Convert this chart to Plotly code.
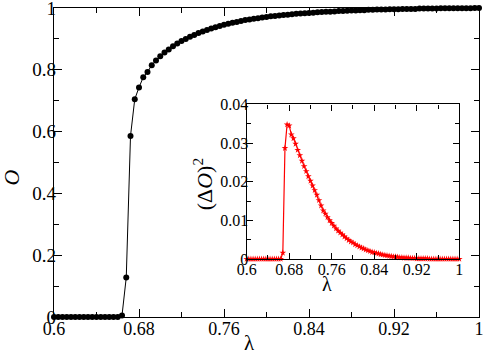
import plotly.graph_objects as go

# lambda grid: 0.6 .. 1.0 step 0.004
lam = [round(0.6 + 0.004 * i, 3) for i in range(101)]

order_param = (
    [0.0] * 16 + [0.005, 0.128, 0.586, 0.705, 0.743, 0.776, 0.793, 0.815, 0.830, 0.844,
                  0.856, 0.866, 0.876, 0.885, 0.893, 0.900, 0.907, 0.913, 0.919, 0.924,
                  0.929, 0.934, 0.938, 0.942, 0.946, 0.949, 0.952, 0.955, 0.958, 0.961,
                  0.963, 0.965, 0.967, 0.969, 0.971,
                  0.973, 0.974, 0.976, 0.977, 0.978, 0.980, 0.981, 0.982, 0.983, 0.984,
                  0.985, 0.986, 0.987, 0.988, 0.988, 0.989, 0.990, 0.990, 0.991, 0.992,
                  0.992, 0.993, 0.993, 0.994, 0.994, 0.995, 0.995, 0.995, 0.996, 0.996,
                  0.996, 0.997, 0.997, 0.997, 0.997, 0.998, 0.998, 0.998, 0.998, 0.998,
                  0.999, 0.999, 0.999, 0.999, 0.999, 0.999, 0.999, 0.999, 1.0, 1.0]
)

fluct = (
    [0.0] * 16 + [0.0, 0.0016, 0.0287, 0.0348, 0.0345, 0.0322, 0.0312, 0.0298, 0.0282, 0.0268,
                  0.0254, 0.0240, 0.0227, 0.0214, 0.0202, 0.0190, 0.0178, 0.0166, 0.0152, 0.0138,
                  0.0125, 0.0117, 0.0108, 0.0100, 0.0093, 0.0086, 0.0079, 0.0073, 0.0068, 0.0063,
                  0.0058, 0.0053, 0.0049, 0.0045, 0.0042,
                  0.0038, 0.0035, 0.0032, 0.0029, 0.0027, 0.0024, 0.0022, 0.0020, 0.0018, 0.0017,
                  0.0015, 0.0014, 0.0012, 0.0011, 0.0010, 0.0009, 0.0008, 0.0007, 0.0006, 0.0006,
                  0.0005, 0.0004, 0.0004, 0.0003, 0.0003, 0.0003, 0.0002, 0.0002, 0.0002, 0.0001,
                  0.0001, 0.0001, 0.0001, 0.0001, 0.0001] + [0.0] * 15
)

main_xticks = [0.6, 0.68, 0.76, 0.84, 0.92, 1.0]
main_yticks = [0, 0.2, 0.4, 0.6, 0.8, 1.0]
inset_yticks = [0, 0.01, 0.02, 0.03, 0.04]

FONT = "Liberation Serif"

fig = go.Figure()
fig.add_trace(go.Scatter(
    x=lam, y=order_param, mode="lines+markers",
    line=dict(color="black", width=1),
    marker=dict(color="black", size=6, symbol="circle"),
    cliponaxis=False, xaxis="x", yaxis="y", showlegend=False, hoverinfo="skip",
))
fig.add_trace(go.Scatter(
    x=lam, y=fluct, mode="lines+markers",
    line=dict(color="red", width=1.2),
    marker=dict(color="red", size=5, symbol="star"),
    cliponaxis=False, xaxis="x2", yaxis="y2", showlegend=False, hoverinfo="skip",
))

axis_common = dict(
    showgrid=False, zeroline=False, showline=True, linecolor="black", linewidth=1.3,
    mirror="ticks", ticks="inside", tickcolor="black", tickwidth=1, automargin=False,
    ticklabeloverflow="allow",
)

fig.update_layout(
    width=484, height=353,
    margin=dict(l=54, r=5, t=8, b=36),
    paper_bgcolor="white", plot_bgcolor="white",
    font=dict(family=FONT, color="black"),
    xaxis=dict(range=[0.6, 1.0], tickvals=main_xticks, ticklen=8, ticklabelstandoff=-5,
               minor=dict(dtick=0.04, tick0=0.6, ticklen=5, ticks="inside", tickcolor="black"),
               tickfont=dict(size=18, family=FONT), domain=[0, 1], **axis_common),
    yaxis=dict(range=[0, 1.0], tickvals=main_yticks, ticklen=8, ticklabelstandoff=-7,
               minor=dict(dtick=0.1, tick0=0, ticklen=5, ticks="inside", tickcolor="black"),
               tickfont=dict(size=19, family=FONT), domain=[0, 1], **axis_common),
    xaxis2=dict(range=[0.6, 1.0], tickvals=main_xticks, ticklen=6, anchor="y2", ticklabelstandoff=-4,
                minor=dict(dtick=0.04, tick0=0.6, ticklen=4, ticks="inside", tickcolor="black"),
                tickfont=dict(size=16, family=FONT), domain=[0.4534, 0.9536], **axis_common),
    yaxis2=dict(range=[0, 0.04], tickvals=inset_yticks, ticklen=6, anchor="x2", ticklabelstandoff=-6,
                minor=dict(dtick=0.005, tick0=0, ticklen=4, ticks="inside", tickcolor="black"),
                tickfont=dict(size=16, family=FONT), domain=[0.1877, 0.688], **axis_common),
)

fig.add_annotation(text="<i>O</i>", xref="paper", yref="paper", x=-0.1, y=0.45,
                   xanchor="center", yanchor="middle",
                   showarrow=False, textangle=-90, font=dict(size=22, family=FONT))
fig.add_annotation(text="λ", xref="paper", yref="paper", x=0.461, y=-0.083,
                   xanchor="center", yanchor="middle", showarrow=False, font=dict(size=21, family=FONT))
fig.add_annotation(text="(Δ<i>O</i>)<sup>2</sup>", xref="paper", yref="paper", x=0.351, y=0.43,
                   xanchor="center", yanchor="middle",
                   showarrow=False, textangle=-90, font=dict(size=22, family=FONT))
fig.add_annotation(text="λ", xref="paper", yref="paper", x=0.642, y=0.106,
                   xanchor="center", yanchor="middle", showarrow=False, font=dict(size=20, family=FONT))

fig.write_html("out.html", config={"displayModeBar": False},
               post_script="document.body.style.margin='0';")
